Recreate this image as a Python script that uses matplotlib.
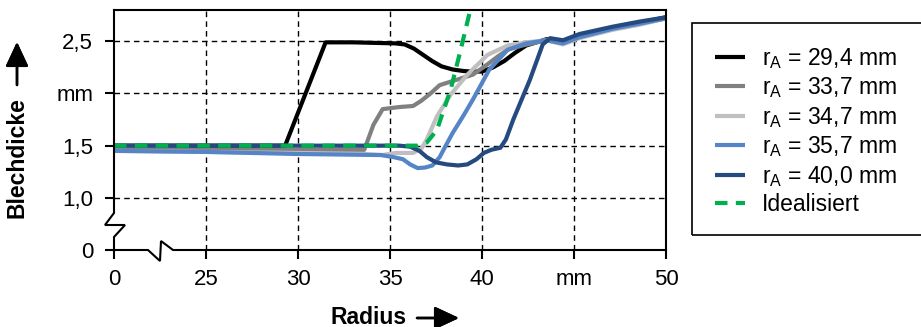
import numpy as np
import matplotlib
matplotlib.use("Agg")
import matplotlib.pyplot as plt
from matplotlib.patches import Rectangle

plt.rcParams["font.family"] = ["Liberation Sans", "DejaVu Sans"]
plt.rcParams["mathtext.fontset"] = "custom"
plt.rcParams["mathtext.rm"] = "Liberation Sans"
plt.rcParams["mathtext.it"] = "Liberation Sans"

# radius in mm, sheet thickness in mm
x_294 = [0, 25, 29.3, 31.5, 33, 35.3, 35.8, 36.3, 36.8, 37.3, 37.8, 38.4, 39.0, 39.5, 40.0,
         40.6, 41.2, 41.8, 42.4, 43.5, 44.4, 45.3, 47.1, 48.6, 50]
t_294 = [1.5, 1.5, 1.5, 2.49, 2.49, 2.48, 2.47, 2.43, 2.37, 2.31, 2.26, 2.23, 2.215, 2.21, 2.21,
         2.25, 2.31, 2.39, 2.46, 2.52, 2.49, 2.55, 2.63, 2.68, 2.73]

x_337 = [0, 25, 30, 33.6, 34.1, 34.6, 35.5, 36.25, 36.7, 37.2, 37.7, 38.6, 39.5,
         40.3, 40.9, 41.4, 42.2, 43, 43.5, 44.4, 45.3, 47.1, 48.6, 50]
t_337 = [1.47, 1.46, 1.46, 1.46, 1.70, 1.85, 1.87, 1.88, 1.93, 2.00, 2.08, 2.13, 2.18,
         2.28, 2.36, 2.42, 2.46, 2.49, 2.51, 2.48, 2.54, 2.62, 2.67, 2.72]

x_347 = [0, 25, 30, 33.5, 34.6, 35.3, 36.25, 36.7, 37.0, 37.55, 38.3, 39.2, 40.3,
         41.4, 42.4, 43.5, 44.4, 45.3, 47.1, 48.6, 50]
t_347 = [1.45, 1.44, 1.43, 1.42, 1.41, 1.43, 1.43, 1.47, 1.56, 1.78, 1.99, 2.18, 2.37,
         2.46, 2.49, 2.51, 2.47, 2.53, 2.61, 2.66, 2.72]

x_357 = [0, 25, 30, 34.5, 35.2, 35.7, 36.1, 36.5, 36.9, 37.3, 37.7, 38.0, 38.4, 39.0, 39.5,
         40.4, 41.4, 42.4, 43.5, 44.4, 45.3, 47.1, 48.6, 50]
t_357 = [1.45, 1.44, 1.42, 1.41, 1.39, 1.37, 1.32, 1.285, 1.29, 1.31, 1.39, 1.49, 1.62, 1.79,
         1.94, 2.23, 2.42, 2.48, 2.51, 2.48, 2.54, 2.62, 2.67, 2.72]

x_400 = [0, 25, 30, 35.5, 36.1, 36.6, 37.0, 37.5, 38.1, 38.7, 39.2, 39.7, 40.1, 40.5, 41.0,
         41.3, 41.7, 42.6, 43.3, 43.7, 44.4, 45.3, 47.1, 48.6, 50]
t_400 = [1.5, 1.5, 1.5, 1.5, 1.49, 1.45, 1.39, 1.34, 1.32, 1.31, 1.32, 1.37, 1.43, 1.46, 1.48,
         1.56, 1.75, 2.13, 2.47, 2.53, 2.51, 2.57, 2.64, 2.69, 2.73]

x_ideal = [0, 25, 36.5, 37.0, 37.55, 38.3, 38.8, 39.5]
t_ideal = [1.5, 1.5, 1.5, 1.53, 1.65, 2.04, 2.39, 2.9]

labels = ["r$_\\mathrm{A}$ = 29,4 mm", "r$_\\mathrm{A}$ = 33,7 mm", "r$_\\mathrm{A}$ = 34,7 mm",
          "r$_\\mathrm{A}$ = 35,7 mm", "r$_\\mathrm{A}$ = 40,0 mm", "Idealisiert"]
colors = ["#000000", "#808080", "#bfbfbf", "#5585c6", "#244a80", "#00b050"]

xticks = [0, 25, 30, 35, 40, 45, 50]
xticklabels = ["0", "25", "30", "35", "40", "mm", "50"]
yticks = [0, 1.0, 1.5, 2.0, 2.5]
yticklabels = ["0", "1,0", "1,5", "mm", "2,5"]


# broken axes: 0..25 squeezed into one grid step, 0..1 squeezed into half a step
def xfwd(x):
    x = np.asarray(x, dtype=float)
    return np.where(x < 25, 20 + x / 5, x)


def xinv(u):
    u = np.asarray(u, dtype=float)
    return np.where(u < 25, (u - 20) * 5, u)


def yfwd(y):
    y = np.asarray(y, dtype=float)
    return np.where(y < 1, 0.5 + y / 2, y)


def yinv(v):
    v = np.asarray(v, dtype=float)
    return np.where(v < 1, (v - 0.5) * 2, v)


W, H = 921, 327
fig = plt.figure(figsize=(W / 100, H / 100), dpi=100)
ax = fig.add_axes([114 / W, 1 - 250 / H, 552 / W, 240 / H])
ax.set_xscale("function", functions=(xfwd, xinv))
ax.set_yscale("function", functions=(yfwd, yinv))

series = [(x_294, t_294), (x_337, t_337), (x_347, t_347), (x_357, t_357), (x_400, t_400)]
handles = []
for (xs, ts), c, lab in zip(series, colors[:5], labels[:5]):
    h, = ax.plot(xs, ts, color=c, lw=3, solid_capstyle="butt", solid_joinstyle="round",
                 label=lab)
    handles.append(h)
h, = ax.plot(x_ideal, t_ideal, color=colors[5], lw=3, ls=(0, (3, 2)), label=labels[5])
handles.append(h)

ax.set_xlim(0, 50)
ax.set_ylim(0, 2.8)
ax.set_xticks(xticks)
ax.set_xticklabels(xticklabels)
ax.set_yticks(yticks)
ax.set_yticklabels(yticklabels)
ax.minorticks_off()
ax.tick_params(labelsize=16, length=6.5, width=1.5, colors="black")
ax.tick_params(axis="y", pad=8.5)
ax.tick_params(axis="x", pad=7.5)

for v in [25, 30, 35, 40, 45]:
    ax.axvline(v, color="black", lw=1, ls=(0, (4, 3)), zorder=0)
for v in [1.0, 1.5, 2.0, 2.5]:
    ax.axhline(v, color="black", lw=1, ls=(0, (4, 3)), zorder=0)

for s in ["top", "right"]:
    ax.spines[s].set_linewidth(1.5)
for s in ["left", "bottom"]:
    ax.spines[s].set_visible(False)

# axis lines with break symbols
def px(xp, yp):
    return (xp - 114) / 552, (250 - yp) / 240

left = [px(114, 10), px(114, 213), px(105, 225), px(125, 225), px(114, 237), px(114, 250)]
bottom = [px(114, 250), px(148, 250), px(160, 261), px(161, 241), px(173, 250), px(666, 250)]
for path in (left, bottom):
    xs, ys = zip(*path)
    ax.plot(xs, ys, color="black", lw=1.5, transform=ax.transAxes, clip_on=False,
            solid_joinstyle="miter", zorder=5)

# axis titles with arrows
fig.text(17 / W, 1 - 158 / H, "Blechdicke", rotation=90, ha="center", va="center",
         fontsize=16.5, fontweight="bold")
fig.text(369 / W, 1 - 317 / H, "Radius", ha="center", va="center",
         fontsize=16.5, fontweight="bold")
arrow = dict(arrowstyle="-|>,head_length=0.75,head_width=0.35", color="black", lw=1.8,
             shrinkA=0, shrinkB=0, mutation_scale=20)
fig.add_artist(plt.annotate("", xy=(17 / W, 1 - 42 / H), xytext=(17 / W, 1 - 85 / H),
                            xycoords="figure fraction", arrowprops=arrow))
fig.add_artist(plt.annotate("", xy=(459 / W, 1 - 318 / H), xytext=(417 / W, 1 - 318 / H),
                            xycoords="figure fraction", arrowprops=arrow))

fig.patches.append(Rectangle((692 / W, 1 - 235 / H), 240 / W, 212 / H, transform=fig.transFigure,
                             fill=False, edgecolor="black", lw=1.2))
fig.legend(handles=handles, loc="center left", bbox_to_anchor=(715 / W, 1 - 131 / H),
           frameon=False, fontsize=16.5, handlelength=1.3, handletextpad=0.75,
           labelspacing=0.2, borderpad=0, borderaxespad=0)

fig.savefig("out.png", dpi=100)
